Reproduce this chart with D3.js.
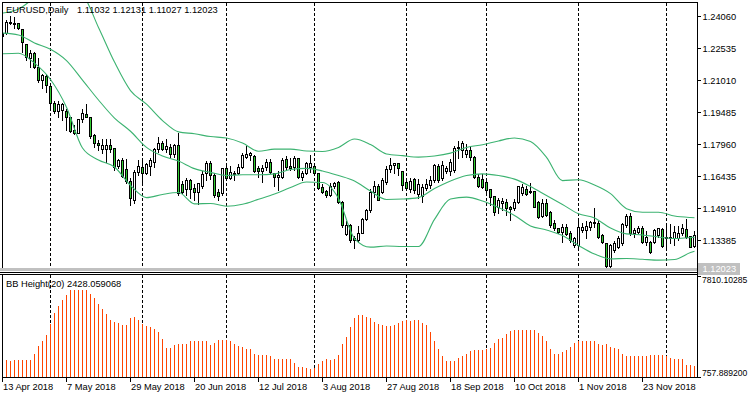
<!DOCTYPE html>
<html><head><meta charset="utf-8">
<script src="https://cdn.jsdelivr.net/npm/d3@7"></script>
<style>html,body{margin:0;padding:0;background:#fff;}svg{display:block;}text{font-family:"Liberation Sans",Arial,sans-serif;font-size:9.3px;fill:#000;}</style>
</head><body><svg id="c" width="750" height="398"></svg>
<script>
// ---- categories: daily bars (trading days) starting 13 Apr 2018 ----
const firstDay = "2018-04-13";
const barCount = 174;
const dates = [];
{ let d = new Date(firstDay + "T00:00:00Z");
  while (dates.length < barCount) { const w = d.getUTCDay(); if (w !== 0 && w !== 6) dates.push(new Date(d)); d = new Date(d.getTime() + 86400000); } }

const tickLabels = ["13 Apr 2018","7 May 2018","29 May 2018","20 Jun 2018","12 Jul 2018","3 Aug 2018","27 Aug 2018","18 Sep 2018","10 Oct 2018","1 Nov 2018","23 Nov 2018"];
const priceTicks = ["1.24060","1.22535","1.21010","1.19485","1.17960","1.16435","1.14910","1.13385"];
const histTicks = ["7810.10285","757.889200"];
const symbolTitle = "EURUSD,Daily";
const lastQuote = ["1.11032","1.12131","1.11027","1.12023"];
const indicatorTitle = "BB Height(20) 2428.059068";
const lastPrice = 1.12023;

// ---- OHLC ----
const open = [1.2310,1.2326,1.2379,1.2368,1.2374,1.2343,1.2272,1.2204,1.2231,1.2164,1.2101,1.2121,1.2074,1.1990,1.1953,1.1958,1.1953,1.1923,1.1863,1.1850,1.1914,1.1939,1.1926,1.1837,1.1802,1.1771,1.1771,1.1791,1.1775,1.1691,1.1720,1.1675,1.1621,1.1529,1.1661,1.1688,1.1659,1.1692,1.1711,1.1771,1.1799,1.1771,1.1783,1.1747,1.1791,1.1604,1.1582,1.1624,1.1588,1.1569,1.1597,1.1656,1.1704,1.1648,1.1569,1.1561,1.1683,1.1635,1.1652,1.1656,1.1688,1.1735,1.1744,1.1740,1.1680,1.1669,1.1688,1.1709,1.1656,1.1637,1.1640,1.1725,1.1693,1.1685,1.1728,1.1637,1.1656,1.1688,1.1693,1.1656,1.1593,1.1572,1.1553,1.1597,1.1613,1.1521,1.1367,1.1410,1.1348,1.1338,1.1373,1.1437,1.1481,1.1569,1.1596,1.1569,1.1616,1.1675,1.1696,1.1704,1.1669,1.1616,1.1580,1.1629,1.1558,1.1549,1.1585,1.1601,1.1624,1.1693,1.1633,1.1667,1.1667,1.1672,1.1775,1.1767,1.1747,1.1767,1.1735,1.1640,1.1629,1.1615,1.1580,1.1548,1.1497,1.1513,1.1521,1.1494,1.1489,1.1521,1.1561,1.1580,1.1569,1.1573,1.1521,1.1453,1.1516,1.1473,1.1418,1.1397,1.1378,1.1402,1.1370,1.1315,1.1315,1.1386,1.1386,1.1399,1.1421,1.1421,1.1362,1.1323,1.1215,1.1291,1.1307,1.1323,1.1410,1.1453,1.1370,1.1378,1.1397,1.1328,1.1330,1.1330,1.1362,1.1389,1.1347,1.1354,1.1347,1.1347,1.1370,1.1389,1.1358,1.1310];
const high = [1.2345,1.2392,1.2411,1.2406,1.2379,1.2347,1.2276,1.2247,1.2240,1.2212,1.2133,1.2134,1.2077,1.2006,1.2006,1.1996,1.1967,1.1929,1.1891,1.1918,1.1966,1.1990,1.1929,1.1850,1.1818,1.1823,1.1823,1.1823,1.1783,1.1728,1.1735,1.1728,1.1640,1.1675,1.1723,1.1735,1.1712,1.1735,1.1783,1.1834,1.1815,1.1823,1.1802,1.1802,1.1855,1.1624,1.1640,1.1635,1.1609,1.1617,1.1672,1.1720,1.1720,1.1664,1.1585,1.1688,1.1704,1.1696,1.1672,1.1704,1.1759,1.1791,1.1763,1.1747,1.1696,1.1699,1.1728,1.1728,1.1664,1.1672,1.1735,1.1744,1.1735,1.1744,1.1735,1.1672,1.1715,1.1747,1.1704,1.1664,1.1609,1.1582,1.1613,1.1620,1.1624,1.1529,1.1434,1.1418,1.1362,1.1410,1.1447,1.1489,1.1585,1.1624,1.1609,1.1640,1.1696,1.1735,1.1712,1.1712,1.1672,1.1624,1.1640,1.1640,1.1634,1.1609,1.1632,1.1648,1.1704,1.1704,1.1720,1.1696,1.1728,1.1791,1.1815,1.1815,1.1799,1.1791,1.1744,1.1656,1.1656,1.1624,1.1585,1.1553,1.1545,1.1545,1.1537,1.1505,1.1537,1.1601,1.1609,1.1601,1.1616,1.1577,1.1529,1.1537,1.1537,1.1481,1.1437,1.1402,1.1418,1.1418,1.1386,1.1358,1.1442,1.1425,1.1434,1.1434,1.1497,1.1434,1.1370,1.1330,1.1323,1.1338,1.1362,1.1425,1.1466,1.1473,1.1402,1.1410,1.1410,1.1386,1.1338,1.1394,1.1402,1.1402,1.1410,1.1418,1.1410,1.1410,1.1418,1.1442,1.1362,1.1386];
const low = [1.2305,1.2322,1.2368,1.2347,1.2343,1.2236,1.2196,1.2164,1.2157,1.2093,1.2061,1.2045,1.1974,1.1942,1.1926,1.1910,1.1863,1.1855,1.1843,1.1847,1.1902,1.1923,1.1823,1.1783,1.1767,1.1752,1.1712,1.1759,1.1672,1.1680,1.1640,1.1609,1.1505,1.1513,1.1648,1.1601,1.1654,1.1648,1.1688,1.1759,1.1767,1.1759,1.1735,1.1735,1.1553,1.1561,1.1553,1.1537,1.1529,1.1509,1.1585,1.1624,1.1629,1.1545,1.1529,1.1553,1.1624,1.1629,1.1624,1.1652,1.1680,1.1728,1.1720,1.1664,1.1640,1.1617,1.1672,1.1656,1.1597,1.1577,1.1632,1.1672,1.1672,1.1672,1.1632,1.1624,1.1652,1.1664,1.1648,1.1582,1.1561,1.1545,1.1548,1.1585,1.1513,1.1402,1.1362,1.1330,1.1299,1.1330,1.1370,1.1434,1.1473,1.1545,1.1529,1.1561,1.1605,1.1664,1.1656,1.1648,1.1577,1.1580,1.1569,1.1561,1.1539,1.1521,1.1577,1.1585,1.1616,1.1616,1.1624,1.1656,1.1648,1.1664,1.1728,1.1735,1.1735,1.1720,1.1632,1.1591,1.1585,1.1569,1.1505,1.1458,1.1466,1.1481,1.1458,1.1434,1.1481,1.1516,1.1553,1.1553,1.1561,1.1494,1.1442,1.1447,1.1453,1.1402,1.1386,1.1370,1.1330,1.1362,1.1330,1.1307,1.1307,1.1378,1.1346,1.1386,1.1402,1.1346,1.1323,1.1211,1.1211,1.1283,1.1299,1.1315,1.1402,1.1362,1.1354,1.1370,1.1323,1.1315,1.1275,1.1323,1.1354,1.1307,1.1307,1.1323,1.1315,1.1338,1.1362,1.1346,1.1307,1.1307];
const close = [1.2326,1.2379,1.2371,1.2374,1.2347,1.2283,1.2212,1.2231,1.2161,1.2101,1.2125,1.2077,1.1990,1.1953,1.1985,1.1985,1.1923,1.1859,1.1850,1.1914,1.1942,1.1926,1.1834,1.1802,1.1791,1.1791,1.1793,1.1771,1.1688,1.1720,1.1645,1.1621,1.1537,1.1661,1.1691,1.1659,1.1699,1.1720,1.1771,1.1799,1.1771,1.1786,1.1747,1.1791,1.1564,1.1569,1.1624,1.1582,1.1569,1.1609,1.1652,1.1704,1.1648,1.1553,1.1550,1.1680,1.1635,1.1664,1.1659,1.1688,1.1744,1.1748,1.1751,1.1669,1.1669,1.1683,1.1709,1.1664,1.1637,1.1648,1.1720,1.1688,1.1683,1.1728,1.1640,1.1659,1.1704,1.1704,1.1656,1.1585,1.1569,1.1553,1.1597,1.1609,1.1521,1.1410,1.1410,1.1338,1.1338,1.1373,1.1437,1.1481,1.1569,1.1596,1.1529,1.1624,1.1675,1.1696,1.1704,1.1680,1.1601,1.1585,1.1621,1.1577,1.1605,1.1592,1.1604,1.1624,1.1696,1.1624,1.1696,1.1680,1.1712,1.1778,1.1783,1.1799,1.1767,1.1735,1.1640,1.1597,1.1591,1.1577,1.1545,1.1473,1.1529,1.1526,1.1489,1.1488,1.1521,1.1596,1.1590,1.1558,1.1573,1.1497,1.1450,1.1516,1.1458,1.1410,1.1394,1.1378,1.1402,1.1367,1.1338,1.1347,1.1402,1.1402,1.1405,1.1426,1.1426,1.1354,1.1330,1.1215,1.1315,1.1323,1.1346,1.1415,1.1453,1.1370,1.1386,1.1394,1.1330,1.1354,1.1283,1.1386,1.1394,1.1310,1.1354,1.1347,1.1378,1.1370,1.1397,1.1354,1.1307,1.1362];

// ---- Bollinger bands (20), read every 4th bar ----
const bandBars = [0,4,8,12,16,20,24,28,32,36,40,44,48,52,56,60,64,68,72,76,80,84,88,92,96,100,104,108,112,116,120,124,128,132,136,140,144,148,152,156,160,164,168,172,173];
const bandUpper = [1.2422,1.2442,1.2492,1.2520,1.2530,1.2506,1.2354,1.2189,1.2053,1.1988,1.1910,1.1856,1.1847,1.1834,1.1827,1.1803,1.1764,1.1774,1.1774,1.1765,1.1763,1.1782,1.1822,1.1796,1.1751,1.1743,1.1736,1.1741,1.1755,1.1782,1.1795,1.1813,1.1827,1.1810,1.1735,1.1624,1.1628,1.1603,1.1562,1.1490,1.1473,1.1473,1.1455,1.1448,1.1447];
const bandMiddle = [1.2327,1.2318,1.2280,1.2250,1.2196,1.2103,1.2008,1.1922,1.1859,1.1782,1.1741,1.1717,1.1681,1.1663,1.1648,1.1652,1.1652,1.1656,1.1677,1.1682,1.1670,1.1648,1.1622,1.1574,1.1534,1.1536,1.1543,1.1586,1.1622,1.1648,1.1656,1.1648,1.1631,1.1596,1.1553,1.1510,1.1466,1.1446,1.1398,1.1370,1.1365,1.1355,1.1348,1.1353,1.1354];
const bandLower = [1.2228,1.2231,1.2184,1.2106,1.1974,1.1779,1.1722,1.1689,1.1601,1.1543,1.1558,1.1567,1.1513,1.1515,1.1502,1.1511,1.1535,1.1560,1.1591,1.1617,1.1615,1.1539,1.1348,1.1307,1.1312,1.1310,1.1310,1.1439,1.1536,1.1545,1.1527,1.1496,1.1458,1.1408,1.1389,1.1362,1.1315,1.1274,1.1251,1.1253,1.1249,1.1245,1.1248,1.1281,1.1287];

// ---- BB Height(20) histogram ----
const bbHeight = [1969,1969,1878,1927,1927,1927,1927,1927,2347,2928,3257,3677,4447,5238,5728,6148,6519,6897,6897,6897,6897,6897,6589,6288,5847,5539,5189,4727,4608,4559,4377,4377,4888,4958,4727,4489,4307,4258,4139,3908,3397,2788,2788,2977,3047,3047,3047,3257,3257,3257,3257,3257,2977,3159,3327,3327,3327,3278,3089,2907,2858,2697,2697,2389,2319,2319,2277,2207,2039,2039,2039,1997,1997,1738,1458,1458,1409,1339,1388,1647,1857,1997,1927,1997,2277,3047,3558,4258,4888,5119,5119,4958,4888,4608,4447,4377,4307,4307,4419,4559,4657,4727,4657,4727,4727,4559,4377,3908,3257,2697,2228,1857,1857,1857,2088,2228,2389,2557,2627,2627,2627,2739,2788,3159,3397,3488,3747,3957,4027,4027,4027,4027,4027,4027,3859,3607,3257,2697,2389,2389,2508,2627,2858,3159,3257,3257,3257,3257,3257,3068,2977,3089,2858,2788,2697,2389,2228,2228,2228,2228,2228,2228,2319,2277,2277,2277,2228,2088,1997,1997,2039,1619,1577,1507];

// ---- drawing ----
const svg = d3.select("#c");
const bullFill = "#ffffff", bearFill = "#32cd32", bandColor = "#3cb371", histColor = "#ff4500";
const x = d3.scaleLinear().domain([0, barCount - 1]).range([2.5, 2.5 + 4 * (barCount - 1)]);
const y = d3.scaleLinear().domain([1.13385, 1.24060]).range([240.5, 16.5]);
const yh = d3.scaleLinear().domain([+histTicks[1], +histTicks[0]]).range([377, 276.5]);
const snap = v => Math.round(v - 0.5) + 0.5;
const fmt = d3.utcFormat("%-d %b %Y");
const labelIdx = tickLabels.map(l => dates.findIndex(d => fmt(d) === l));
const monthIdx = dates.map((d, i) => i).filter(i => i > 0 && dates[i].getUTCMonth() !== dates[i - 1].getUTCMonth());

const defs = svg.append("defs");
defs.append("clipPath").attr("id", "cm").append("rect").attr("x", 3).attr("y", 3).attr("width", 694).attr("height", 265);
defs.append("clipPath").attr("id", "cs").append("rect").attr("x", 3).attr("y", 275).attr("width", 694).attr("height", 102);

// separators
const gm = svg.append("g").attr("clip-path", "url(#cm)");
const gs = svg.append("g").attr("clip-path", "url(#cs)");
[ [gm, 3, 268], [gs, 275, 377] ].forEach(([g, a, b]) => {
  g.selectAll("line.sep").data(monthIdx).join("line").attr("class", "sep")
    .attr("x1", i => x(i)).attr("x2", i => x(i)).attr("y1", a).attr("y2", b)
    .attr("stroke", "#000").attr("stroke-width", 1).attr("stroke-dasharray", "3,2").attr("shape-rendering", "crispEdges");
});

// candles
const idx = d3.range(barCount);
const cg = gm.append("g").attr("shape-rendering", "crispEdges");
cg.selectAll("line.w").data(idx).join("line").attr("class", "w")
  .attr("x1", i => x(i)).attr("x2", i => x(i))
  .attr("y1", i => snap(y(high[i]))).attr("y2", i => snap(y(low[i])))
  .attr("stroke", "#000");
cg.selectAll("rect.b").data(idx).join("rect").attr("class", "b")
  .attr("x", i => x(i) - 1).attr("width", 2)
  .attr("y", i => snap(y(Math.max(open[i], close[i]))))
  .attr("height", i => Math.max(0, snap(y(Math.min(open[i], close[i]))) - snap(y(Math.max(open[i], close[i])))))
  .attr("fill", i => close[i] >= open[i] ? bullFill : bearFill)
  .attr("stroke", "#000").attr("stroke-width", 1);

// bands
const bandLine = d3.line().x((d, k) => x(bandBars[k])).y(d => y(d)).curve(d3.curveMonotoneX);
[bandUpper, bandMiddle, bandLower].forEach(b => {
  gm.append("path").attr("d", bandLine(b)).attr("fill", "none").attr("stroke", bandColor).attr("stroke-width", 1.1);
});

// histogram
gs.append("g").attr("shape-rendering", "crispEdges").selectAll("line").data(idx).join("line")
  .attr("x1", i => x(i)).attr("x2", i => x(i)).attr("y1", i => yh(bbHeight[i])).attr("y2", 377)
  .attr("stroke", histColor).attr("stroke-width", 1);

// frames
const fr = svg.append("g").attr("shape-rendering", "crispEdges").attr("stroke", "#000").attr("fill", "none");
fr.append("rect").attr("x", 0).attr("y", 268).attr("width", 697).attr("height", 3).attr("fill", "#c0c0c0").attr("stroke", "none");
fr.append("line").attr("x1", 2.5).attr("x2", 2.5).attr("y1", 2).attr("y2", 268);
fr.append("line").attr("x1", 2).attr("x2", 697).attr("y1", 2.5).attr("y2", 2.5);
fr.append("line").attr("x1", 0).attr("x2", 697).attr("y1", 272.5).attr("y2", 272.5);
fr.append("line").attr("x1", 0).attr("x2", 697).attr("y1", 274.5).attr("y2", 274.5);
fr.append("line").attr("x1", 2.5).attr("x2", 2.5).attr("y1", 274).attr("y2", 378);
fr.append("line").attr("x1", 697.5).attr("x2", 697.5).attr("y1", 2).attr("y2", 378);
fr.append("line").attr("x1", 2).attr("x2", 698).attr("y1", 377.5).attr("y2", 377.5);

// price axis
const ay = svg.append("g");
priceTicks.forEach(t => {
  const yy = snap(y(+t));
  ay.append("line").attr("x1", 698).attr("x2", 701).attr("y1", yy).attr("y2", yy).attr("stroke", "#000").attr("shape-rendering", "crispEdges");
  ay.append("text").attr("x", 702.5).attr("y", yy).attr("dy", "0.35em").text(t);
});
// last price tag
const ly = y(lastPrice);
svg.append("rect").attr("x", 698).attr("y", Math.round(ly) - 6).attr("width", 42).attr("height", 12).attr("fill", "#c0c0c0");
svg.append("text").attr("x", 702.5).attr("y", Math.round(ly)).attr("dy", "0.35em").style("fill", "#fff").text(lastPrice.toFixed(5));

// histogram axis
histTicks.forEach((t, k) => {
  const yy = snap(yh(+t));
  svg.append("line").attr("x1", 698).attr("x2", 701).attr("y1", yy).attr("y2", yy).attr("stroke", "#000").attr("shape-rendering", "crispEdges");
  svg.append("text").attr("x", 702).attr("y", k === 0 ? yy + 6.5 : yy - 2).style("font-size", "8.6px").text(t);
});

// date axis
labelIdx.forEach((i, k) => {
  const xx = x(i);
  svg.append("line").attr("x1", xx).attr("x2", xx).attr("y1", 378).attr("y2", 382).attr("stroke", "#000").attr("shape-rendering", "crispEdges");
  svg.append("text").attr("x", xx + 0.5).attr("y", 389.5).text(tickLabels[k]);
});

// titles
svg.append("text").attr("x", 6).attr("y", 13).text(symbolTitle);
svg.append("text").attr("x", 77).attr("y", 13).text(lastQuote.join(" "));
svg.append("text").attr("x", 6).attr("y", 286.5).text(indicatorTitle);
</script></body></html>
